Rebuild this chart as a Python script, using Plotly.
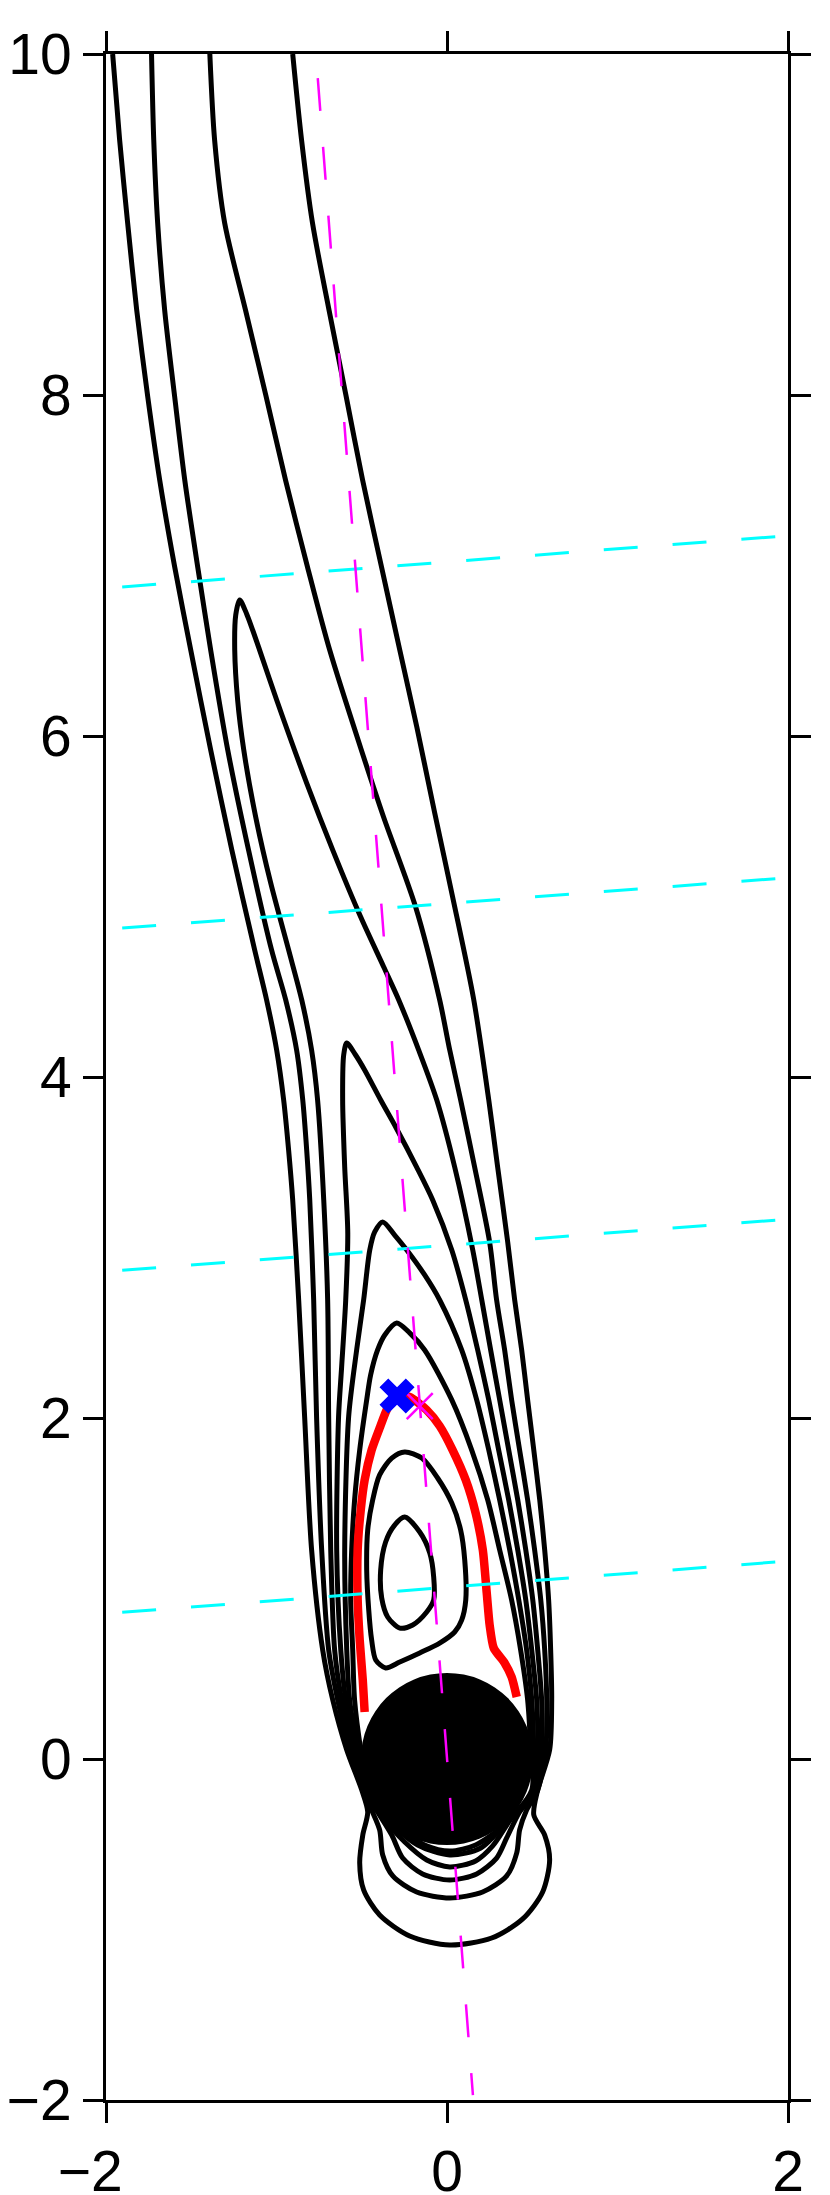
import plotly.graph_objects as go

# ---------------- data (data coordinates) ----------------
# outermost streamline (enters at top left, wraps below the cylinder, leaves at top right)
s1_x = [-1.961, -1.920, -1.873, -1.820, -1.755, -1.685, -1.597, -1.503, -1.386, -1.262,
        -1.128, -1.058, -0.999, -0.958, -0.929, -0.905, -0.870, -0.835, -0.794, -0.729,
        -0.670, -0.588, -0.500,
        -0.465, -0.494, -0.512, -0.489, -0.395, -0.219, 0.016, 0.262, 0.444, 0.561,
        0.602, 0.573, 0.509, 0.532,
        0.602, 0.614, 0.608, 0.596, 0.573, 0.544, 0.509, 0.473, 0.438, 0.397,
        0.356, 0.297, 0.245, 0.156, 0.033, -0.072, -0.177, -0.277, -0.384, -0.495,
        -0.593, -0.692, -0.789, -0.853, -0.905]
s1_y = [10.0, 9.496, 9.009, 8.499, 7.988, 7.501, 6.991, 6.504, 5.918, 5.331,
        4.745, 4.452, 4.158, 3.865, 3.572, 3.279, 2.692, 2.006, 1.226, 0.639,
        0.346, 0.053, -0.182,
        -0.311, -0.446, -0.610, -0.768, -0.915, -1.038, -1.091, -1.050, -0.938, -0.780,
        -0.592, -0.446, -0.328, -0.182,
        0.053, 0.346, 0.639, 0.933, 1.226, 1.519, 1.812, 2.106, 2.399, 2.692,
        3.032, 3.472, 3.865, 4.458, 5.056, 5.548, 6.053, 6.504, 6.991, 7.501,
        8.000, 8.499, 9.009, 9.496, 10.0]

# second streamline
s2_x = [-1.733, -1.720, -1.697, -1.656, -1.597, -1.538, -1.462, -1.386, -1.286, -1.164,
        -1.029, -0.946, -0.882, -0.846, -0.823, -0.805, -0.782, -0.765, -0.735, -0.694,
        -0.641, -0.571, -0.494,
        -0.442, -0.395, -0.377, -0.318, -0.178, 0.016, 0.209, 0.350, 0.409, 0.426,
        0.467, 0.532,
        0.579, 0.585, 0.573, 0.550, 0.514, 0.473, 0.426, 0.379, 0.338, 0.291,
        0.250, 0.162, 0.080, 0.016, -0.043, -0.184, -0.372, -0.489, -0.688, -0.818,
        -0.947, -1.063, -1.182, -1.304, -1.363, -1.391]
s2_y = [10.0, 9.496, 9.009, 8.499, 7.988, 7.501, 6.991, 6.504, 5.918, 5.331,
        4.745, 4.452, 4.158, 3.865, 3.572, 3.279, 2.692, 2.006, 1.226, 0.639,
        0.346, 0.053, -0.182,
        -0.299, -0.416, -0.563, -0.686, -0.780, -0.815, -0.780, -0.686, -0.551, -0.416,
        -0.299, -0.182,
        0.053, 0.346, 0.639, 0.933, 1.226, 1.519, 1.812, 2.106, 2.399, 2.692,
        3.032, 3.472, 3.865, 4.158, 4.452, 4.997, 5.525, 5.877, 6.504, 6.991,
        7.501, 8.000, 8.499, 9.009, 9.496, 10.0]

# closed streamline with tip near y = 6.8
s3_x = [-1.216, -1.239, -1.245, -1.228, -1.192, -1.122, -1.034, -0.929, -0.852, -0.794,
        -0.759, -0.723, -0.700, -0.694, -0.682, -0.659, -0.618, -0.553, -0.489,
        -0.407, -0.324, -0.260, -0.143, 0.016, 0.174, 0.291, 0.350, 0.426, 0.526,
        0.555, 0.555, 0.532, 0.503, 0.462, 0.415, 0.362, 0.309, 0.256, 0.204,
        0.151, 0.045, -0.060, -0.166, -0.283, -0.371, -0.506, -0.670, -0.823, -0.999,
        -1.099, -1.175, -1.216]
s3_y = [6.798, 6.710, 6.504, 6.211, 5.918, 5.525, 5.138, 4.745, 4.452, 4.158,
        3.865, 3.279, 2.692, 2.006, 1.226, 0.639, 0.346, 0.053, -0.182,
        -0.311, -0.446, -0.581, -0.674, -0.710, -0.674, -0.581, -0.463, -0.311, -0.182,
        0.053, 0.346, 0.639, 0.933, 1.226, 1.519, 1.812, 2.106, 2.399, 2.692,
        2.985, 3.472, 3.865, 4.158, 4.452, 4.645, 4.938, 5.331, 5.724, 6.211,
        6.504, 6.716, 6.798]

# closed streamline with tip near y = 4.2
s4_x = [-0.588, -0.606, -0.612, -0.600, -0.582, -0.594, -0.618, -0.636, -0.647, -0.623,
        -0.594, -0.535, -0.483,
        -0.377, -0.248, -0.119, 0.016, 0.168, 0.268, 0.379, 0.520,
        0.532, 0.526, 0.497, 0.462, 0.415, 0.362, 0.303, 0.245, 0.180, 0.110,
        0.028, -0.084, -0.178, -0.301, -0.389, -0.483, -0.536, -0.588]
s4_y = [4.199, 4.129, 3.865, 3.472, 3.085, 2.692, 2.299, 2.006, 1.226, 0.639,
        0.346, 0.053, -0.182,
        -0.340, -0.487, -0.592, -0.633, -0.598, -0.510, -0.346, -0.182,
        0.053, 0.346, 0.639, 0.933, 1.226, 1.519, 1.812, 2.106, 2.399, 2.692,
        2.985, 3.279, 3.472, 3.707, 3.865, 4.041, 4.129, 4.199]

# closed streamline with tip near y = 3.15
s5_x = [-0.377, -0.424, -0.453, -0.489, -0.530, -0.577, -0.600, -0.588, -0.571, -0.524,
        -0.477,
        -0.348, -0.172, 0.016, 0.198, 0.350, 0.509,
        0.509, 0.497, 0.467, 0.421, 0.368, 0.309, 0.245, 0.174, 0.086, -0.043,
        -0.131, -0.236, -0.307, -0.377]
s5_y = [3.150, 3.091, 2.985, 2.692, 2.399, 2.006, 1.226, 0.639, 0.346, 0.053,
        -0.182,
        -0.358, -0.504, -0.563, -0.522, -0.370, -0.182,
        0.053, 0.346, 0.639, 0.933, 1.226, 1.519, 1.812, 2.106, 2.399, 2.692,
        2.839, 2.985, 3.073, 3.150]

# closed streamline with tip near y = 2.55
s6_x = [-0.295, -0.365, -0.407, -0.448, -0.471, -0.512, -0.542, -0.559, -0.565, -0.553,
        -0.542, -0.506, -0.465,
        -0.307, -0.131, 0.016, 0.168, 0.327, 0.497,
        0.491, 0.473, 0.432, 0.379, 0.309, 0.239, 0.145, 0.028, -0.131, -0.219, -0.295]
s6_y = [2.557, 2.487, 2.399, 2.252, 2.106, 1.812, 1.519, 1.226, 0.933, 0.639,
        0.346, 0.053, -0.182,
        -0.393, -0.504, -0.540, -0.504, -0.393, -0.182,
        0.053, 0.346, 0.639, 0.933, 1.226, 1.519, 1.812, 2.106, 2.399, 2.499, 2.557]

# recirculation loops
loop_b_x = [-0.248, -0.148, -0.055, 0.028, 0.080, 0.104, 0.110, 0.086, 0.045, -0.043,
            -0.160, -0.277, -0.360, -0.418, -0.442, -0.459, -0.471, -0.465, -0.436,
            -0.395, -0.324, -0.248]
loop_b_y = [1.801, 1.765, 1.648, 1.501, 1.343, 1.167, 0.933, 0.815, 0.745, 0.680,
            0.622, 0.569, 0.534, 0.581, 0.698, 0.874, 1.109, 1.343, 1.519,
            1.666, 1.765, 1.801]
loop_a_x = [-0.248, -0.160, -0.101, -0.078, -0.078, -0.119, -0.201, -0.277, -0.348,
            -0.383, -0.389, -0.360, -0.307, -0.248]
loop_a_y = [1.419, 1.331, 1.208, 1.067, 0.933, 0.862, 0.786, 0.768, 0.833,
            0.944, 1.109, 1.273, 1.372, 1.419]

# separating streamline (red)
sep_x = [-0.483, -0.494, -0.512, -0.524, -0.524, -0.506, -0.483, -0.442, -0.395, -0.348,
         -0.295, -0.219, -0.119, -0.043, 0.033, 0.110, 0.168, 0.210, 0.233, 0.250,
         0.274, 0.338, 0.379, 0.409]
sep_y = [0.276, 0.463, 0.698, 0.933, 1.226, 1.460, 1.636, 1.812, 1.941, 2.059,
         2.129, 2.123, 2.047, 1.953, 1.812, 1.636, 1.443, 1.226, 0.974, 0.786,
         0.651, 0.563, 0.481, 0.364]

# wake axis (magenta) and cross sections (cyan)
axis_x = [-0.758, 0.152]
axis_y = [9.859, -1.971]
cut_x = [-1.905, 2.0]
cut1_y = [6.874, 7.175]
cut2_y = [4.874, 5.169]
cut3_y = [2.866, 3.166]
cut4_y = [0.860, 1.161]

# marked points
axis_pt_x, axis_pt_y = [-0.160], [2.070]
stag_x, stag_y = [-0.293], [2.129]

# cylinder
cyl_cx, cyl_cy, cyl_r = 0.0, 0.0, 0.505

# axis ticks
xtick_vals = [-2, 0, 2]
xtick_text = ["\u22122\u2007", "0", "2"]
ytick_vals = [-2, 0, 2, 4, 6, 8, 10]
ytick_text = ["\u22122", "0", "2", "4", "6", "8", "10"]

# ---------------- figure ----------------
fig = go.Figure()

black = dict(color="black", width=5, shape="spline", smoothing=0.8)
for xs, ys in [(s1_x, s1_y), (s2_x, s2_y), (s3_x, s3_y), (s4_x, s4_y),
               (s5_x, s5_y), (s6_x, s6_y), (loop_b_x, loop_b_y), (loop_a_x, loop_a_y)]:
    fig.add_trace(go.Scatter(x=xs, y=ys, mode="lines", line=black, hoverinfo="skip"))

fig.add_trace(go.Scatter(x=sep_x, y=sep_y, mode="lines",
                         line=dict(color="#ff0000", width=8.5, shape="spline", smoothing=0.6)))

for cy in [cut1_y, cut2_y, cut3_y, cut4_y]:
    fig.add_trace(go.Scatter(x=cut_x, y=cy, mode="lines",
                             line=dict(color="#00ffff", width=3, dash="34px,35px")))

fig.add_trace(go.Scatter(x=axis_x, y=axis_y, mode="lines",
                         line=dict(color="#ff00ff", width=2.5, dash="33px,36px")))

fig.add_trace(go.Scatter(x=axis_pt_x, y=axis_pt_y, mode="markers",
                         marker=dict(symbol="x-thin", size=26, color="#ff00ff",
                                     line=dict(color="#ff00ff", width=2.5))))
fig.add_trace(go.Scatter(x=stag_x, y=stag_y, mode="markers",
                         marker=dict(symbol="x", size=31, color="#0000ff",
                                     line=dict(width=0))))

fig.add_shape(type="circle", xref="x", yref="y", layer="below",
              x0=cyl_cx - cyl_r, x1=cyl_cx + cyl_r, y0=cyl_cy - cyl_r, y1=cyl_cy + cyl_r,
              fillcolor="black", line=dict(width=0))

tick_font = dict(family="Liberation Sans, Arial, Helvetica, sans-serif", size=57,
                 color="black")
axis_style = dict(showgrid=False, zeroline=False, showline=True, linecolor="black",
                  linewidth=3, mirror="ticks", ticks="outside", ticklen=20, tickwidth=2.5,
                  tickcolor="black", automargin=False, tickfont=tick_font)

fig.update_layout(
    width=830, height=2195,
    margin=dict(l=98, r=50, t=46, b=103),
    paper_bgcolor="white", plot_bgcolor="white",
    showlegend=False,
    xaxis=dict(range=[-2, 2], tickmode="array", tickvals=xtick_vals, ticktext=xtick_text,
               **axis_style),
    yaxis=dict(range=[-2, 10], tickmode="array", tickvals=ytick_vals, ticktext=ytick_text,
               ticksuffix="\u2009", **axis_style),
)

fig.write_html("out.html")
